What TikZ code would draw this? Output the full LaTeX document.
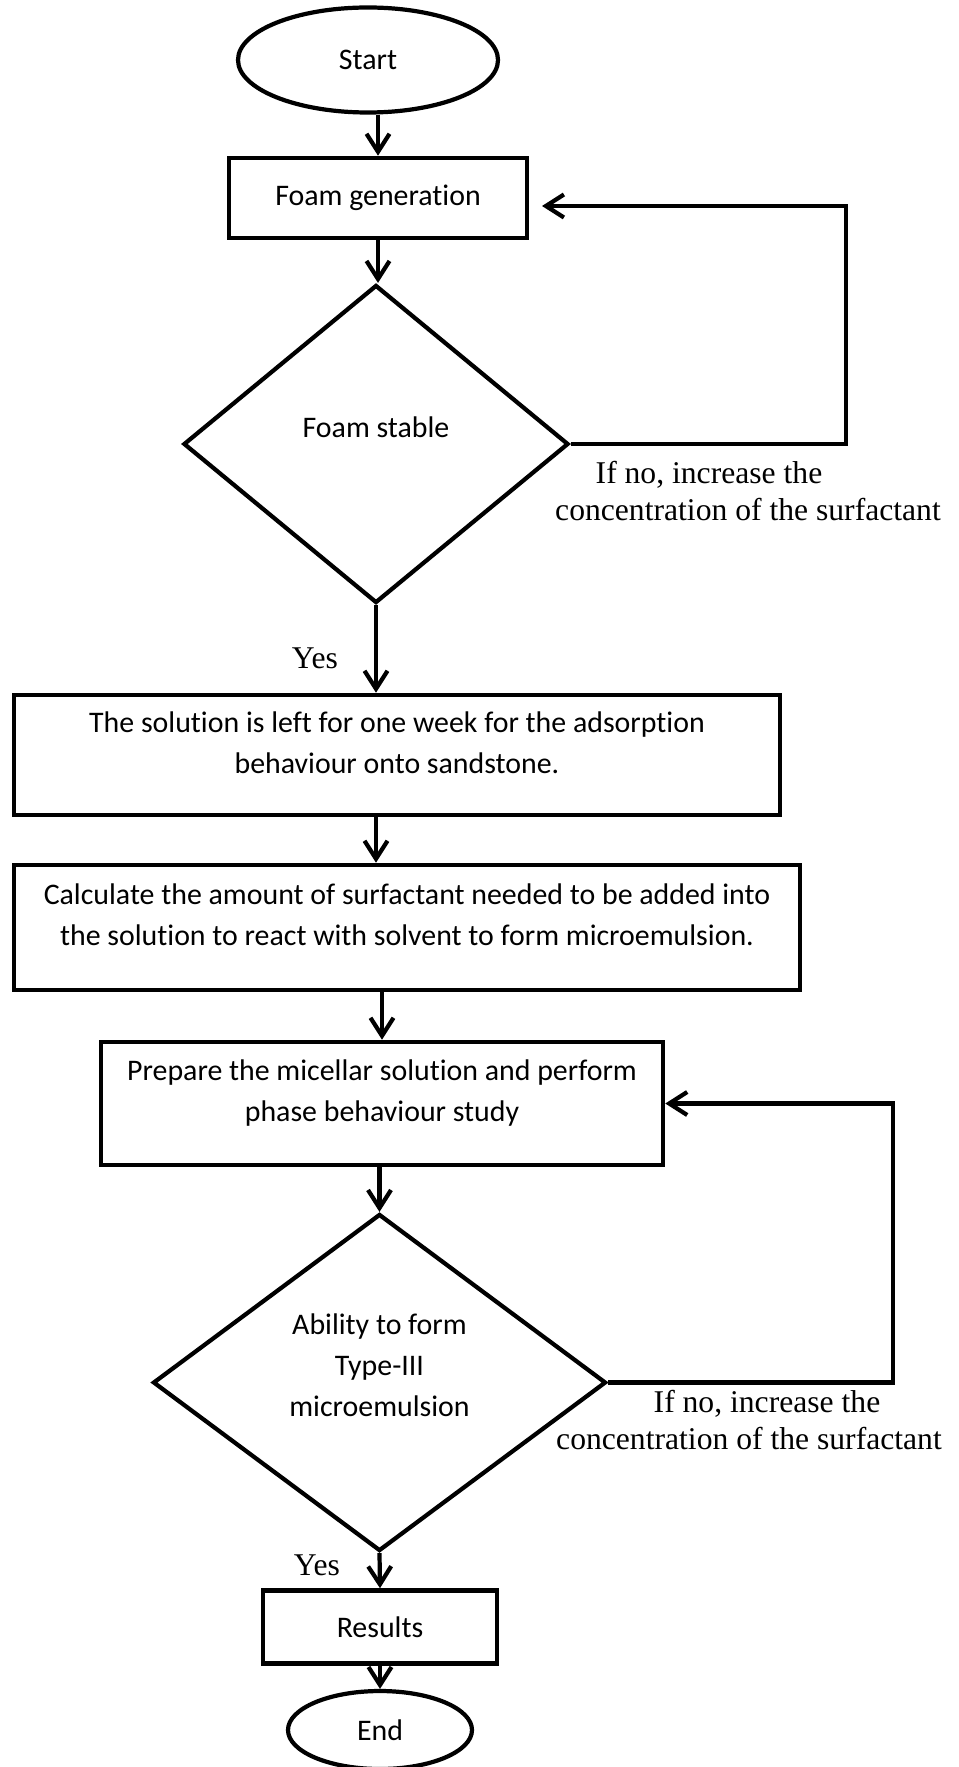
\documentclass[tikz,border=0pt]{standalone}
\usepackage{fontspec}
\setmainfont{Carlito}[Ligatures=NoCommon]
\newfontfamily\timesfont{Liberation Serif}
\usetikzlibrary{shapes.geometric,arrows.meta}

\tikzstyle{box} = [draw, line width=2.6pt, align=center, inner sep=0pt, font=\fontsize{17}{23.3}\selectfont]
\tikzstyle{term} = [draw, ellipse, line width=2.4pt, inner sep=0pt, font=\fontsize{17}{23.3}\selectfont]
\tikzstyle{dec} = [draw, diamond, line width=2.4pt, inner sep=0pt, align=center, font=\fontsize{17}{23.3}\selectfont]
\tikzstyle{arr} = [line width=2.4pt, -{Straight Barb[length=0.36cm,width=0.46cm]}]
\tikzstyle{ann} = [align=center, font=\timesfont\fontsize{18}{21.6}\selectfont]
\def\loopa{16.92}
\def\loopb{17.86}

\begin{document}
\begin{tikzpicture}
                \useasboundingbox (0,0) rectangle (19.16,-35.34);
                % draw terminal and process nodes
                \node[term,
                    minimum width=5.2cm,
                    minimum height=2.1cm] (start) at (7.36,-1.2) {Start};
                \node[box,
                    minimum width=5.96cm,
                    minimum height=1.6cm] (foam) at (7.56,-3.96) {Foam generation};
                \node[dec,
                    minimum width=7.7cm,
                    minimum height=6.36cm] (stable) at (7.52,-8.88) {Foam stable\\[-4pt]\mbox{}};
                \node[box,
                    minimum width=15.32cm,
                    minimum height=2.4cm] (adsorb) at (7.94,-15.1) {The solution is left for one week for the adsorption\\behaviour onto sandstone.\\[-9pt]\mbox{}};
                \node[box,
                    minimum width=15.72cm,
                    minimum height=2.5cm] (calc) at (8.14,-18.55) {Calculate the amount of surfactant needed to be added into\\the solution to react with solvent to form microemulsion.\\[-9pt]\mbox{}};
                \node[box,
                    minimum width=11.24cm,
                    minimum height=2.46cm] (prep) at (7.64,-22.07) {Prepare the micellar solution and perform\\phase behaviour study\\[-9pt]\mbox{}};
                \node[dec,
                    minimum width=9.06cm,
                    minimum height=6.74cm] (ability) at (7.59,-27.65) {Ability to form\\Type-III\\microemulsion\\[-4pt]\mbox{}};
                \node[box,
                    minimum width=4.68cm,
                    minimum height=1.46cm] (res) at (7.6,-32.54) {Results};
                \node[term,
                    minimum width=3.68cm,
                    minimum height=1.56cm] (stop) at (7.6,-34.6) {End};
                % draw annotations
                \node[ann] (yesa) at (6.3,-13.16) {Yes};
                \node[ann] (yesb) at (6.34,-31.3) {Yes};
                \node[ann] (noa) at (14.96,-9.82) {If no, increase the\hspace*{1.56cm}\\concentration of the surfactant};
                \node[ann] (nob) at (14.98,-28.4) {\hspace*{0.72cm}If no, increase the\\concentration of the surfactant};
                \coordinate (ca) at (\loopa,-4.12);
                \coordinate (cb) at (10.84,-4.12);
                \coordinate (cc) at (\loopb,-22.07);
                % draw edges
                \draw[arr] (start.south -| foam.north) -- (foam.north);
                \draw[arr] (foam.south) -- (foam.south |- stable.north);
                \draw[arr] (stable.south) -- (stable.south |- adsorb.north);
                \draw[arr] (stable.south |- adsorb.south) -- (stable.south |- calc.north);
                \draw[arr] (prep.north |- calc.south) -- (prep.north);
                \draw[arr] (ability.north |- prep.south) -- (ability.north);
                \draw[arr] (ability.south) -- (res.north);
                \draw[arr] (res.south) -- (stop.north);
                \draw[arr] (stable.east) -| (ca) -- (cb);
                \draw[arr] (ability.east) -| (cc) -- (prep.east);
        \end{tikzpicture}
\end{document}
